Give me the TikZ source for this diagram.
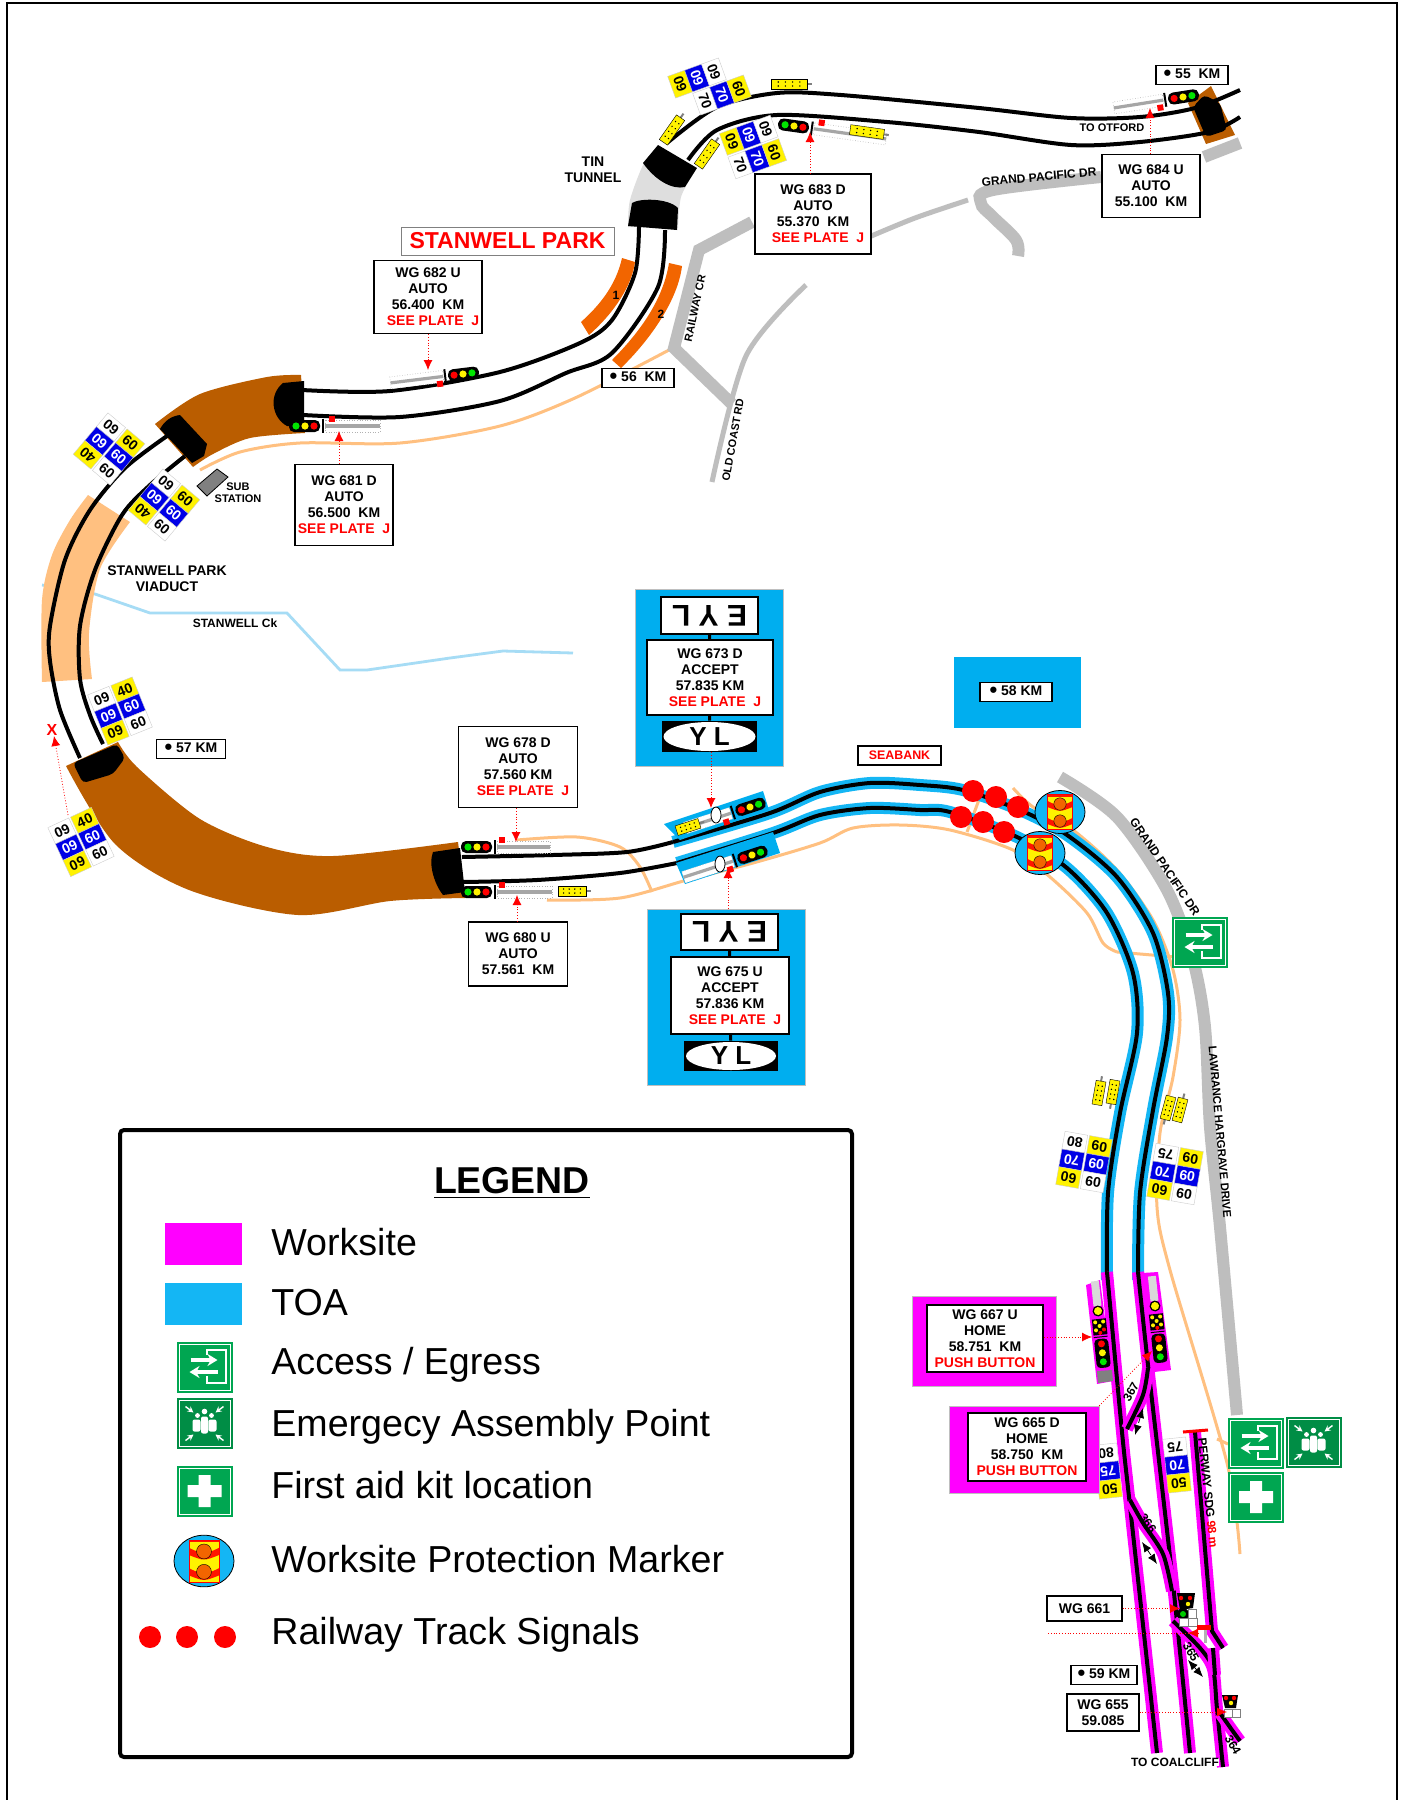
\documentclass[tikz,border=0pt]{standalone}
\usepackage{fontspec}
\setmainfont{Liberation Sans}
\usepackage{xcolor}
\usetikzlibrary{arrows.meta,calc,shapes}

\definecolor{brownarc}{HTML}{BA5D00}
\definecolor{peach}{HTML}{FFC080}
\definecolor{toablue}{HTML}{14B6F4}
\definecolor{boxblue}{HTML}{00AEEF}
\definecolor{worksite}{HTML}{FF00FF}
\definecolor{roadgrey}{HTML}{BEBEBE}
\definecolor{signgreen}{HTML}{00A651}
\definecolor{sorange}{HTML}{F26500}
\definecolor{spblue}{HTML}{0000E6}
\definecolor{creek}{HTML}{A6DCF5}

\newcommand{\seeplate}{\textcolor{red}{SEE PLATE\ \ J}}
\newcommand{\seeplateR}{\hspace{5pt}\textcolor{red}{SEE PLATE\ \ J}}
\newcommand{\pushbtn}{\textcolor{red}{PUSH BUTTON}}
\newcommand{\kmdot}{\raisebox{-1pt}{\fontsize{11}{11}\selectfont\textbullet}}

\newcommand{\spboard}[9]{
	\begin{scope}[shift={(#1,#2)},rotate=#3]
		\node[spcell,transform shape,fill=white,rotate=180] at (-12.5,-18) {#4};
		\node[spcell,transform shape,fill=spblue,text=white,rotate=180] at (-12.5,0) {#5};
		\node[spcell,transform shape,fill=yellow,rotate=180] at (-12.5,18) {#6};
		\node[spcell,transform shape,fill=yellow] at (12.5,-18) {#7};
		\node[spcell,transform shape,fill=spblue,text=white] at (12.5,0) {#8};
		\node[spcell,transform shape,fill=white] at (12.5,18) {#9};
	\end{scope}
}
\newcommand{\spcol}[6]{
	\begin{scope}[shift={(#1,#2)},rotate=#3]
		\node[spcell,transform shape,fill=white,rotate=180] at (0,-18) {#4};
		\node[spcell,transform shape,fill=spblue,text=white,rotate=180] at (0,0) {#5};
		\node[spcell,transform shape,fill=yellow,rotate=180] at (0,18) {#6};
	\end{scope}
}
\newcommand{\spcolr}[6]{
	\begin{scope}[shift={(#1,#2)},rotate=#3]
		\node[spcell,transform shape,fill=yellow] at (0,-18) {#4};
		\node[spcell,transform shape,fill=spblue,text=white] at (0,0) {#5};
		\node[spcell,transform shape,fill=white] at (0,18) {#6};
	\end{scope}
}
\newcommand{\autosig}[5]{
	\begin{scope}[shift={(#1,#2)},rotate=#3]
		\fill[white] (20,-6) rectangle (#4,6);
		\draw[gray!60,densely dotted,line width=.3pt] (20,-6) rectangle (#4,6);
		\draw[gray!70,line width=1.6pt] (20,0) -- (#4,0);
		\fill[red] (#5-3,-10) rectangle (#5+3,-4);
		\fill[black,rounded corners=2.5pt] (-16,-6) rectangle (15,6);
		\draw[black,line width=1pt] (18,-7) -- (18,7);
		\fill[green!90!black] (-9,0) circle (3.6);
		\fill[yellow] (0,0) circle (3.6);
		\fill[red] (9,0) circle (3.6);
	\end{scope}
}
\newcommand{\homesig}[5]{
	\begin{scope}[shift={(#1,#2)},rotate=#3]
		\fill[black!15] (-4,-30) rectangle (4,-5);
		\fill[black] (0,0) circle (5.5);
		\fill[yellow] (0,0) circle (4);
		\fill[black] (-7,8) rectangle (7,24);
		\draw[black,line width=.5pt] (-7,26) -- (7,26);
		\fill[black,rounded corners=2pt] (-7,28) rectangle (7,57);
		\foreach \px/\py in {-4/11,4/11,0/15,-4/19} \fill[yellow] (\px,\py) circle (2);
		\fill[#4] (4,19) circle (2);
		\fill[#5] (0,22) circle (2);
		\fill[red] (0,33) circle (3.5);
		\fill[yellow] (0,42) circle (3.5);
		\fill[green!90!black] (0,51) circle (3.5);
	\end{scope}
}
\newcommand{\ytag}[4]{
	\begin{scope}[shift={(#1,#2)},rotate=#3]
		\draw[gray,line width=1pt] (#4,0) -- (#4+5,0);
		\draw[fill=yellow,line width=.2pt] (-#4,-5) rectangle (#4,5);
		\foreach \px in {-.6,-.2,.2,.6} {
			\fill (\px*#4,-2) circle (.8);
			\fill (\px*#4,2) circle (.8);
		}
	\end{scope}
}
\newcommand{\accessicon}[2]{
	\begin{scope}[shift={(#1,#2)}]
		\fill[signgreen] (-28,-25.5) rectangle (28,25.5);
		\draw[white,line width=.4pt] (-25.5,-23) rectangle (25.5,23);
		\draw[white,line width=1pt] (2,-12) -- (2,-17) -- (21,-17) -- (21,16) -- (2,16) -- (2,9);
		\draw[white,line width=2pt,-{Stealth[length=5pt,width=6pt]}] (-14,-7) -- (13,-7);
		\draw[white,line width=2pt,-{Stealth[length=5pt,width=6pt]}] (13,5) -- (-15,5);
	\end{scope}
}
\newcommand{\assemblyicon}[2]{
	\begin{scope}[shift={(#1,#2)}]
		\fill[signgreen!85!black] (-28,-25.5) rectangle (28,25.5);
		\draw[white,line width=.4pt] (-25.5,-23) rectangle (25.5,23);
		\foreach \ax/\ay in {-1/-1,1/-1,-1/1,1/1}
			\draw[white,line width=.7pt,-{Stealth[length=3pt,width=3pt]}] (\ax*19,\ay*17) -- (\ax*11,\ay*11);
		\fill[white] (0,-12) circle (2.8) (-7,-8) circle (2.4) (7,-8) circle (2.4);
		\fill[white,rounded corners=1pt] (-12,-4) rectangle (-4,8) (-3.5,-7) rectangle (3.5,10) (4,-4) rectangle (12,8);
	\end{scope}
}
\newcommand{\aidicon}[2]{
	\begin{scope}[shift={(#1,#2)}]
		\fill[signgreen] (-28,-25.5) rectangle (28,25.5);
		\draw[white,line width=.4pt] (-25.5,-23) rectangle (25.5,23);
		\fill[white] (-6,-16) rectangle (6,16) (-17,-6) rectangle (17,6);
	\end{scope}
}
\newcommand{\wpmarker}[3]{
	\begin{scope}[shift={(#1,#2)},scale=#3]
		\draw[fill=toablue,line width=.4pt] (0,0) ellipse (25 and 21.5);
		\fill[yellow] (-12.5,-17.5) rectangle (12.5,17.5);
		\fill[red!85!orange] (-12.5,-17.5) rectangle (12.5,-15.5);
		\foreach \yy in {-8,9} {
			\fill[red!85!orange] (-12.5,\yy-3) .. controls (0,\yy+3) .. (12.5,\yy-3) -- (12.5,\yy+3) .. controls (0,\yy+8) .. (-12.5,\yy+3) -- cycle;
			\draw[fill=sorange,line width=.2pt] (0,\yy) circle (6.2);
		}
		\draw[red,line width=.5pt] (-12.5,-17.5) rectangle (12.5,17.5);
	\end{scope}
}

\begin{document}
\begin{tikzpicture}[x=.5pt,y=-.5pt,
		lbl/.style={font=\fontsize{7}{8}\selectfont\bfseries,align=center,inner sep=0pt},
		wgbox/.style={lbl,draw,fill=white,line width=.6pt},
		kmbox/.style={wgbox,minimum height=9.5pt,minimum width=36pt},
		tinylbl/.style={font=\fontsize{6}{7}\selectfont\bfseries,align=center,inner sep=0pt},
		spcell/.style={minimum width=11.5pt,minimum height=9pt,inner sep=0pt,draw=gray!40,line width=.2pt,font=\fontsize{7}{7}\selectfont\bfseries},
		peachline/.style={draw=peach,line width=1.5pt},
		road/.style={draw=roadgrey,line width=6pt},
		thinroad/.style={draw=roadgrey,line width=2.5pt},
		track/.style={draw=black,line width=2pt},
		toaline/.style={draw=toablue,line width=6pt,postaction={draw=black,line width=2pt}},
		wsline/.style={draw=worksite,line width=6pt,postaction={draw=black,line width=2pt}},
		leader/.style={draw=red,densely dotted,line width=.4pt,-{Latex[length=5pt,width=4.5pt]}},
		dbl/.style={draw=black,densely dashed,line width=.4pt,{Latex[length=5pt,width=4pt]}-{Latex[length=5pt,width=4pt]}},
		stem/.style={draw=black,line width=1.5pt},
		reddot/.style={fill=red}]
	\useasboundingbox (0,0) rectangle (1403,1800);
	\fill[white] (0,0) rectangle (1403,1800);
	\draw[line width=1.2pt] (7,1800) -- (7,3) -- (1397,3) -- (1397,1800);

	\draw[peachline] plot[smooth] coordinates {(200,470) (240,452) (300,443) (400,443) (500,426) (575,398) (669,350)};
	\draw[peachline] plot[smooth] coordinates {(517,840) (577,837) (620,847) (640,867) (652,892)};
	\draw[peachline] plot[smooth] coordinates {(547,900) (620,898) (687,880) (753,863) (820,843) (853,828) (900,825) (950,830) (1013,850) (1050,877) (1087,913) (1103,943) (1117,952)};
	\draw[peachline] (1117,952) -- (1175,957);
	\draw[peachline] plot[smooth] coordinates {(1013,788) (1033,807) (1073,830) (1117,870) (1153,920) (1173,970) (1180,1020) (1173,1077) (1160,1133) (1157,1207) (1170,1270) (1227,1463) (1240,1554)};
	\draw[peachline] (1217,1439) -- (1228,1444);
	\draw[peachline] (980,797) -- (967,832);

	\draw[thinroad] plot[smooth] coordinates {(806,285) (746,356) (712,482)};
	\draw[thinroad] plot[smooth] coordinates {(869,237) (915,218) (968,200)};
	\draw[road] (752,222) -- (699,250) -- (674,348) -- (732,404);
	\draw[road] plot[smooth,tension=.6] coordinates {(1101,177) (993,190) (981,203) (993,217) (1016,240) (1018,256)};
	\draw[road] (1204,157) -- (1240,143);
	\draw[road] plot[smooth] coordinates {(1060,777) (1117,817) (1167,890) (1193,960) (1205,1027) (1210,1127) (1220,1227) (1237,1415)};

	\draw[creek,line width=1.4pt] plot coordinates {(42,585) (95,594) (150,613) (287,613) (340,670) (367,670) (450,658) (503,651) (573,653)};

	\fill[peach] plot[smooth] coordinates {(88,495) (70,520) (52,555) (42,600) (42,682)} -- (92,679) -- plot[smooth] coordinates {(92,679) (89,633) (100,569) (130,522)} -- cycle;

	\fill[brownarc] plot[smooth] coordinates {(155,424) (200,394) (267,377) (301,375)} -- (305,433) -- plot[smooth] coordinates {(305,433) (250,438) (213,454) (193,467)} -- cycle;
	\fill[brownarc] plot[smooth] coordinates {(66,766) (115,844) (189,890) (298,915) (390,901) (465,898)} -- (458,842) -- plot[smooth] coordinates {(458,842) (333,856) (267,847) (200,819) (137,767) (118,742)} -- cycle;
	\fill[brownarc] (1211,86) -- (1235,135) -- (1206,144) -- (1188,103) -- cycle;
	\fill[black!13] plot[smooth] coordinates {(658,147) (644,163) (630,200) (628,227)} -- (678,228) -- plot[smooth] coordinates {(678,228) (681,197) (694,172)} -- cycle;

	\draw[track] plot[smooth] coordinates {(167,436) (125,468) (90,510) (65,560) (50,626) (50,661) (60,710) (80,758)};
	\draw[track] plot[smooth] coordinates {(185,456) (150,485) (122,515) (95,570) (80,626) (80,679) (90,715) (103,744)};
	\draw[track] plot[smooth] coordinates {(302,390) (390,391) (500,372) (580,343) (612,320) (635,273) (639,227)};
	\draw[track] plot[smooth] coordinates {(303,415) (400,417) (500,401) (566,373) (612,353) (658,287) (665,230)};
	\draw[track] plot[smooth] coordinates {(667,143) (717,107) (777,93) (841,95) (979,108) (1071,118) (1140,117) (1195,108) (1240,90)};
	\draw[track] plot[smooth] coordinates {(688,160) (717,130) (777,115) (887,122) (979,132) (1071,145) (1140,142) (1209,132) (1240,117)};
	\draw[track] plot[smooth] coordinates {(462,857) (553,855) (627,852) (673,842)};
	\draw[track] plot[smooth] coordinates {(463,882) (537,880) (620,873) (677,863)};

	\fill[black] (180,415) -- (207,444) -- (204,456) -- (192,463) -- (160,429) .. controls (165,420) and (172,416) .. (180,415);
	\fill[black] (304,381) -- (283,383) .. controls (268,395) and (272,418) .. (287,426) -- (304,427) -- cycle;
	\fill[black] (658,145) -- (697,168) -- (685,187) .. controls (672,190) and (655,180) .. (643,163) -- cycle;
	\fill[black] (628,226) -- (632,203) .. controls (640,198) and (668,198) .. (678,208) -- (677,230) -- cycle;
	\fill[black,rounded corners=2pt] (73,763) -- (117,744) -- (125,758) -- (113,774) -- (83,783) -- cycle;
	\fill[black] (460,848) -- (433,852) .. controls (428,865) and (435,885) .. (443,895) -- (465,892) -- cycle;
	\fill[black,rounded corners=2pt] (1204,95) -- (1220,103) -- (1227,130) -- (1206,137) -- (1193,107) -- cycle;

	\fill[sorange] (622,258) -- (635,262) .. controls (632,285) and (615,312) .. (589,335) -- (581,322) .. controls (600,305) and (616,285) .. (622,258);
	\fill[sorange] (669,263) -- (682,266) .. controls (678,300) and (650,340) .. (621,368) -- (612,360) .. controls (640,332) and (663,300) .. (669,263);
	\node[tinylbl] (orange1) at (616,295) {1};
	\node[tinylbl] (orange2) at (661,314) {2};

	\draw[fill=gray,line width=.4pt] (197,486) -- (217,469) -- (228,477) -- (207,496) -- cycle;

	\draw[toaline] plot[smooth] coordinates {(673,842) (770,813) (820,792) (870,783) (920,785) (963,790) (1020,810) (1067,835) (1117,877) (1153,933) (1168,993) (1167,1037) (1153,1110) (1140,1193) (1138,1280)};
	\draw[toaline] plot[smooth] coordinates {(677,863) (773,833) (820,815) (870,808) (920,810) (950,812) (1017,837) (1067,868) (1107,913) (1133,973) (1137,1033) (1120,1113) (1108,1193) (1107,1280)};
	\draw[wsline] plot[smooth] coordinates {(1138,1272) (1148,1365) (1173,1584) (1190,1753)};
	\draw[wsline] plot[smooth] coordinates {(1107,1272) (1122,1432) (1130,1506) (1157,1753)};
	\draw[wsline] plot[smooth] coordinates {(1148,1368) (1143,1395) (1127,1429)};
	\draw[wsline] plot[smooth] coordinates {(1130,1500) (1143,1523) (1163,1554) (1172,1591)};
	\draw[wsline] (1195,1432) -- (1212,1631) -- (1223,1648);
	\draw[wsline] plot[smooth] coordinates {(1173,1621) (1200,1648) (1213,1669) (1217,1709) (1223,1767)};
	\draw[wsline] (1213,1648) -- (1215,1675);
	\draw[wsline] plot[smooth] coordinates {(1220,1713) (1232,1730) (1240,1741)};
	\draw[red,line width=1.5pt] (1183,1432) -- (1208,1430);

	\fill[worksite] (1086,1285) -- (1100,1280) -- (1113,1381) -- (1097,1384) -- cycle;
	\fill[worksite] (1142,1273) -- (1158,1272) -- (1171,1370) -- (1154,1372) -- cycle;
	\fill[gray] (1097,1371) -- (1112,1370) -- (1113,1381) -- (1098,1383) -- cycle;
	\homesig{1098}{1311}{6}{red}{red}
	\homesig{1155}{1306}{6}{yellow}{red}

	\fill[boxblue] (664,824) -- (763,791) -- (769,810) -- (680,840) -- cycle;
	\fill[boxblue] (676,863) -- (773,832) -- (780,853) -- (685,884) -- cycle;
	\autosig{750}{807}{198}{68}{27}
	\autosig{752}{855}{198}{72}{25}
	\draw[fill=white] (716,815) ellipse (5 and 8);
	\draw[fill=white] (720,864) ellipse (5 and 8);
	\ytag{688}{827}{18}{12}

	\autosig{463}{374}{187}{73}{24}
	\autosig{305}{426}{0}{75}{27}
	\autosig{794}{126}{-8}{93}{27}
	\autosig{1183}{97}{189}{70}{24}
	\autosig{477}{847}{0}{73}{25}
	\autosig{477}{892}{0}{75}{25}

	\ytag{789}{84}{0}{18}
	\ytag{672}{130}{55}{15}
	\ytag{707}{154}{55}{15}
	\ytag{867}{132}{-8}{17}
	\ytag{572}{891}{0}{14}
	\ytag{1099}{1093}{80}{12}
	\ytag{1113}{1092}{-100}{12}
	\ytag{1168}{1108}{-105}{12}
	\ytag{1180}{1110}{75}{12}

	\spboard{109}{449}{-40}{60}{60}{40}{60}{60}{60}
	\spboard{164}{505}{-40}{60}{60}{40}{60}{60}{60}
	\spboard{120}{711}{22}{60}{60}{60}{40}{60}{60}
	\spboard{81}{842}{25}{60}{60}{60}{40}{60}{60}
	\spcolr{697}{78}{110}{60}{60}{60}
	\spcol{722}{95}{110}{70}{70}{60}
	\spboard{753}{147}{110}{70}{70}{60}{60}{60}{60}
	\spboard{1084}{1162}{-10}{80}{70}{60}{60}{60}{60}
	\spboard{1175}{1174}{-10}{75}{70}{60}{60}{60}{60}
	\spcol{1108}{1471}{6}{80}{75}{50}
	\spcol{1177}{1465}{6}{75}{70}{50}

	\foreach \dx/\dy in {973/791,996/797,1018/807,961/817,983/822,1004/832}
		\fill[reddot] (\dx,\dy) circle (11);
	\wpmarker{1060}{812}{1}
	\wpmarker{1040}{853}{1}

	\fill[black] (1177,1593) -- (1195,1593) -- (1193,1608) -- (1180,1610) -- cycle;
	\fill[black] (1183,1614) circle (6);
	\fill[red] (1181,1598) circle (2.2) (1190,1598) circle (2.2);
	\fill[yellow] (1188,1604) circle (2.2);
	\fill[green!80!black] (1183,1614) circle (3);
	\draw[fill=white,draw=gray,line width=.2pt] (1188,1609) rectangle (1196,1618) (1179,1618) rectangle (1188,1626) (1188,1618) rectangle (1197,1626);
	\fill[red] (1197,1625) rectangle (1211,1630);
	\fill[gray!60] (1204,1630) rectangle (1207,1643);
	\fill[black] (1222,1695) -- (1238,1695) -- (1236,1708) -- (1225,1708) -- cycle;
	\fill[red] (1226,1698) circle (2.2) (1234,1698) circle (2.2);
	\fill[yellow] (1231,1703) circle (2.2);
	\draw[fill=white,draw=gray,line width=.2pt] (1224,1709) rectangle (1232,1717) (1232,1709) rectangle (1240,1717);

	\node[wgbox,minimum width=54pt,minimum height=36.5pt] (wg682) at (428,297) {WG 682 U\\AUTO\\56.400\ \ KM\\\seeplateR};
	\node[wgbox,minimum width=49pt,minimum height=40.5pt] (wg681) at (344,505) {WG 681 D\\AUTO\\56.500\ \ KM\\\seeplate};
	\node[wgbox,minimum width=58pt,minimum height=40pt] (wg683) at (813,214) {WG 683 D\\AUTO\\55.370\ \ KM\\\seeplateR};
	\node[wgbox,minimum width=49pt,minimum height=31.5pt] (wg684) at (1151,186) {WG 684 U\\AUTO\\55.100\ \ KM};
	\node[wgbox,minimum width=59.5pt,minimum height=40.5pt] (wg678) at (518,767) {WG 678 D\\AUTO\\57.560 KM\\\seeplateR};
	\node[wgbox,minimum width=49.5pt,minimum height=32pt] (wg680) at (518,954) {WG 680 U\\AUTO\\57.561\ \ KM};

	\node[fill=boxblue,draw=gray!50,line width=.2pt,minimum width=74pt,minimum height=88.5pt,inner sep=0pt] (toa673) at (709,677.5) {};
	\node[wgbox,minimum width=48.5pt,minimum height=18.5pt,font=\fontsize{15}{15}\selectfont\bfseries,rotate=180] (ely673) at (709.5,615.5) {E Y L};
	\node[wgbox,minimum width=63pt,minimum height=37.5pt] (wg673) at (710,677.5) {WG 673 D\\ACCEPT\\57.835 KM\\\seeplateR};
	\node[fill=black,minimum width=47.5pt,minimum height=15.5pt,inner sep=0pt] (yl673) at (709.5,736.5) {};
	\node[ellipse,fill=white,minimum width=46pt,minimum height=14.5pt,inner sep=0pt,font=\fontsize{13}{13}\selectfont\bfseries] (oval673) at (709.5,736.5) {Y L};
	\draw[stem] (ely673) -- (wg673);
	\draw[stem] (wg673) -- (yl673);

	\node[fill=boxblue,draw=gray!50,line width=.2pt,minimum width=79pt,minimum height=88pt,inner sep=0pt] (toa675) at (726,997) {};
	\node[wgbox,minimum width=48.5pt,minimum height=18pt,font=\fontsize{15}{15}\selectfont\bfseries,rotate=180] (ely675) at (729.5,932) {E Y L};
	\node[wgbox,minimum width=59pt,minimum height=38.5pt] (wg675) at (730,995.5) {WG 675 U\\ACCEPT\\57.836 KM\\\seeplateR};
	\node[fill=black,minimum width=47pt,minimum height=15pt,inner sep=0pt] (yl675) at (731,1056) {};
	\node[ellipse,fill=white,minimum width=45pt,minimum height=14pt,inner sep=0pt,font=\fontsize{13}{13}\selectfont\bfseries] (oval675) at (731,1056) {Y L};
	\draw[stem] (ely675) -- (wg675);
	\draw[stem] (wg675) -- (yl675);

	\node[fill=boxblue,minimum width=63.5pt,minimum height=35.5pt,inner sep=0pt] (toa58) at (1017.5,692.5) {};
	\node[kmbox,minimum width=36pt] (km58) at (1016,692) {\kmdot\ 58 KM};

	\node[fill=worksite,draw=gray!50,line width=.2pt,minimum width=72pt,minimum height=45pt,inner sep=0pt] (ws667) at (984,1341) {};
	\node[wgbox,minimum width=58pt,minimum height=33.5pt,line width=1pt] (wg667) at (985,1338.5) {WG 667 U\\HOME\\58.751\ \ KM\\\pushbtn};
	\node[fill=worksite,draw=gray!50,line width=.2pt,minimum width=75pt,minimum height=43.5pt,inner sep=0pt] (ws665) at (1024,1449.5) {};
	\node[wgbox,minimum width=59pt,minimum height=34pt,line width=1pt] (wg665) at (1027,1447) {WG 665 D\\HOME\\58.750\ \ KM\\\pushbtn};
	\node[wgbox,minimum width=37.5pt,minimum height=12.5pt] (wg661) at (1084.5,1608.5) {WG 661};
	\node[wgbox,minimum width=36pt,minimum height=18.5pt] (wg655) at (1103,1712.5) {WG 655\\59.085};

	\node[kmbox] (km55) at (1192,75) {\kmdot\ 55\ \ KM};
	\node[kmbox] (km56) at (638,378) {\kmdot\ 56\ \ KM};
	\node[kmbox,minimum width=34.5pt] (km57) at (191,749) {\kmdot\ 57 KM};
	\node[kmbox,minimum width=33pt] (km59) at (1104,1675) {\kmdot\ 59 KM};

	\node[draw=gray,fill=white,line width=.5pt,text=red,font=\fontsize{11.5}{12}\selectfont\bfseries,minimum width=106.5pt,minimum height=14pt,inner sep=0pt] (parktitle) at (507.5,241) {STANWELL PARK};
	\node[wgbox,text=red,font=\fontsize{6.2}{7}\selectfont\bfseries,minimum width=41.5pt,minimum height=9.5pt] (seabank) at (899.5,755.5) {SEABANK};

	\coordinate (a682) at (428,370);
	\coordinate (a681) at (339,431);
	\coordinate (a683) at (810,132);
	\coordinate (a684) at (1150,108);
	\coordinate (a678) at (516,842);
	\coordinate (a680) at (517,895);
	\coordinate (a673) at (711,808);
	\coordinate (a675) at (728,868);
	\coordinate (a667) at (1092,1337);
	\coordinate (a665) at (1152,1351);
	\coordinate (a661) at (1180,1608.5);
	\coordinate (a655) at (1227,1712);
	\coordinate (f1) at (1048,1633);
	\coordinate (f2) at (1198,1633);
	\coordinate (f3) at (1188,1633);
	\coordinate (x1) at (68,815);
	\coordinate (x2) at (54,736);
	\draw[leader] (a682 |- wg682.south) -- (a682);
	\draw[leader] (a681 |- wg681.north) -- (a681);
	\draw[leader] (a683 |- wg683.north) -- (a683);
	\draw[leader] (a684 |- wg684.north) -- (a684);
	\draw[leader] (a678 |- wg678.south) -- (a678);
	\draw[leader] (a680 |- wg680.north) -- (a680);
	\draw[leader] (a673 |- yl673.south) -- (a673);
	\draw[leader] (a675 |- toa675.north) -- (a675);
	\draw[leader] (wg667.east |- a667) -- (a667);
	\draw[leader] (ws665.north east) -- (a665);
	\draw[leader] (wg661.east) -- (a661);
	\draw[leader] (wg655.east |- a655) -- (a655);
	\draw[red,densely dotted,line width=.4pt] (f1) -- (f2);
	\draw[leader] (f2) -- (f3);
	\draw[leader] (x1) -- (x2);
	\node[text=red,font=\fontsize{8}{8}\selectfont\bfseries,inner sep=0pt] (xmark) at (52,730) {X};

	\draw[dbl] (1143,1408) -- (1135,1435);
	\draw[dbl] (1142,1542) -- (1157,1564);
	\draw[dbl] (1188,1660) -- (1203,1677);
	\node[tinylbl,rotate=60] (pt367) at (1131,1392) {367};
	\node[tinylbl,rotate=-55] (pt366) at (1148,1523) {366};
	\node[tinylbl,rotate=-60] (pt365) at (1191,1652) {365};
	\node[tinylbl,rotate=-60] (pt364) at (1233,1745) {364};

	\node[lbl] (tin) at (593,170) {TIN\\TUNNEL};
	\node[lbl] (viaduct) at (167,579) {STANWELL PARK\\VIADUCT};
	\node[lbl,font=\fontsize{5.5}{6}\selectfont\bfseries] (substn) at (238,493) {SUB\\STATION};
	\node[tinylbl] (creeklbl) at (235,623) {STANWELL Ck};
	\node[tinylbl,rotate=5] (gpd1) at (1039,177) {GRAND PACIFIC DR};
	\node[tinylbl,font=\fontsize{5.5}{6}\selectfont\bfseries,rotate=78] (rwycr) at (695,308) {RAILWAY CR};
	\node[tinylbl,font=\fontsize{5.5}{6}\selectfont\bfseries,rotate=80] (oldcoast) at (733,440) {OLD COAST RD};
	\node[tinylbl,font=\fontsize{5.5}{6}\selectfont\bfseries] (otford) at (1112,128) {TO OTFORD};
	\node[tinylbl,rotate=-56] (gpd2) at (1165,867) {GRAND PACIFIC DR};
	\node[tinylbl,font=\fontsize{5.7}{6}\selectfont\bfseries,rotate=-85] (lhd) at (1220,1132) {LAWRANCE HARGRAVE DRIVE};
	\node[tinylbl,rotate=-84] (perway) at (1208,1493) {PERWAY SDG \textcolor{red}{98 m}};
	\node[tinylbl,fill=white] (coalcliff) at (1175,1762) {TO COALCLIFF};

	\accessicon{1199.5}{942}
	\accessicon{1255.5}{1443}
	\assemblyicon{1313.5}{1442.5}
	\aidicon{1256}{1497}

	\draw[line width=2pt,rounded corners=2pt] (120,1130) rectangle (852,1757);
	\node[font=\fontsize{18.7}{20}\selectfont\bfseries,inner sep=0pt] (legendtitle) at (512,1183) {\underline{LEGEND}};
	\fill[worksite] (165,1223) rectangle (242,1265);
	\fill[toablue] (165,1283) rectangle (242,1325);
	\accessicon{204.5}{1367}
	\assemblyicon{204.5}{1423.5}
	\aidicon{204.5}{1491}
	\wpmarker{204}{1561}{1.2}
	\foreach \lx in {150,187,225}
		\fill[reddot] (\lx,1637) circle (11);
	\foreach \ly/\ltext in {1242/Worksite,1303/TOA,1365/{Access / Egress},1427/Emergecy Assembly Point,1485/First aid kit location,1559/Worksite Protection Marker,1635/Railway Track Signals}
		\node[anchor=west,font=\fontsize{18.8}{20}\selectfont,inner sep=0pt] (legend\ly) at (271,\ly) {\ltext};
\end{tikzpicture}
\end{document}
